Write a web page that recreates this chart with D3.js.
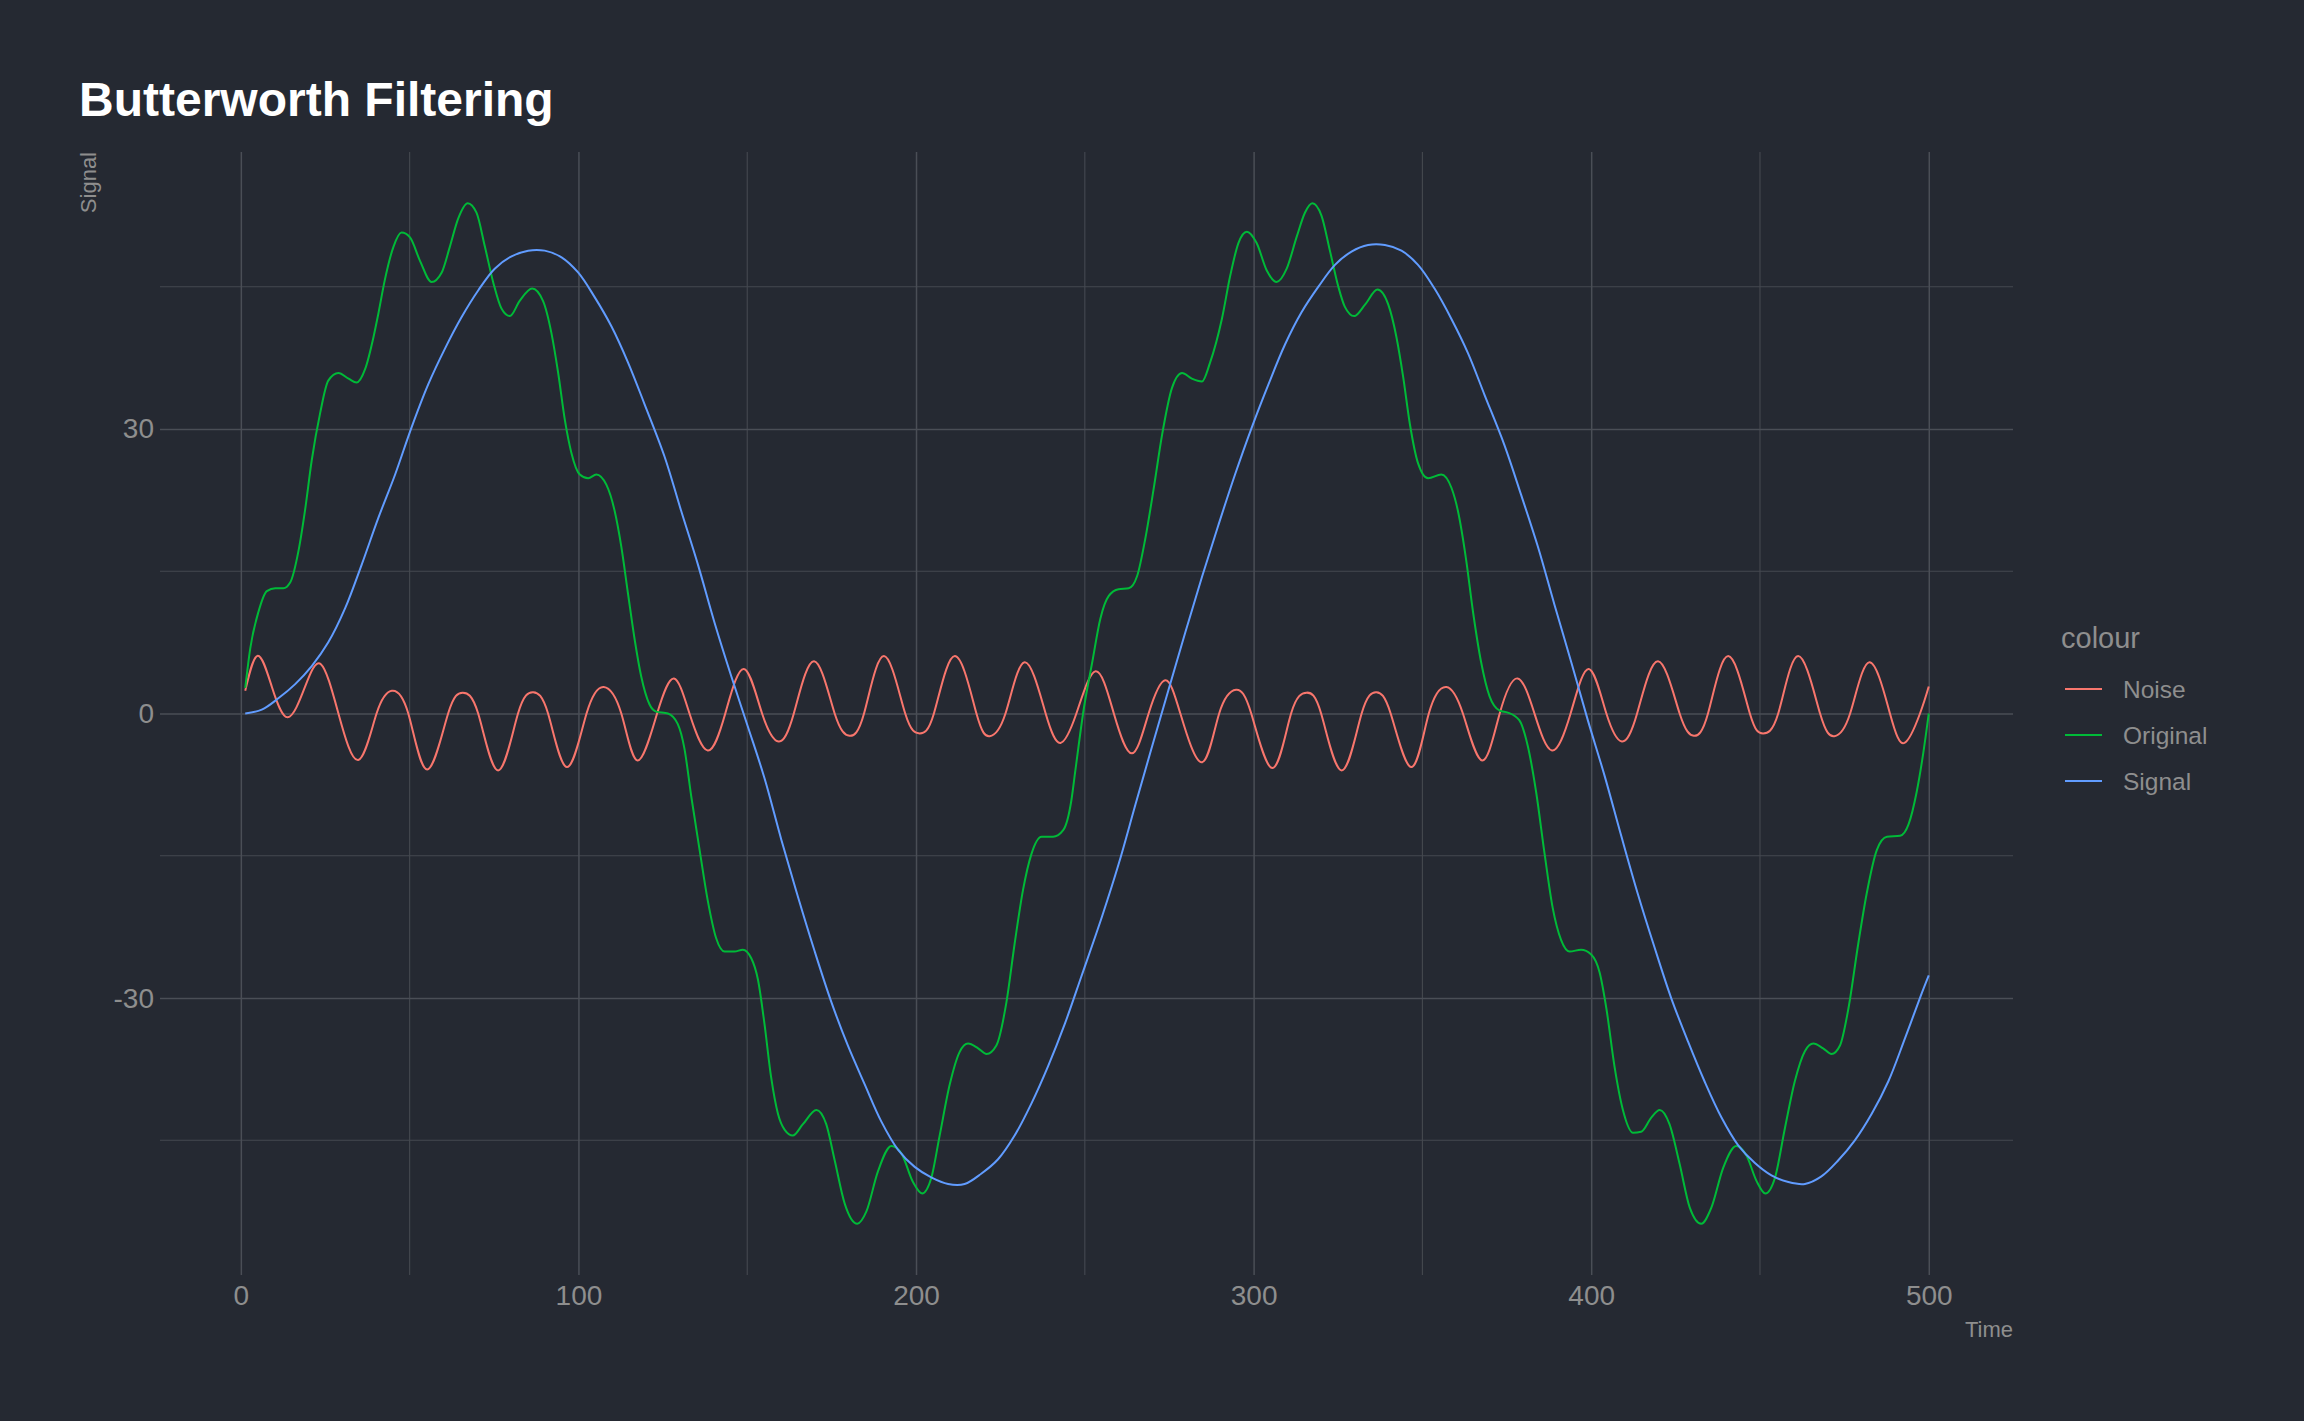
<!DOCTYPE html>
<html>
<head>
<meta charset="utf-8">
<script src="https://cdn.jsdelivr.net/npm/d3@7"></script>
<style>
  html, body { margin: 0; padding: 0; background: #252932; }
  svg { display: block; }
  text { font-family: "Liberation Sans", Arial, sans-serif; }
</style>
</head>
<body>
<svg id="chart" width="2304" height="1421"></svg>
<script>
// values: [time, value]
const noise = [
  [1.3, 2.4], [5, 6.1], [9.2, 2.8], [13.9, -0.4], [19, 2.8], [23.7, 5.2], [28.9, 0], [34.8, -4.9],
  [40.2, 0], [44.7, 2.4], [49.6, 0], [55.2, -5.9], [61.4, 0], [65.7, 2.2], [70.3, 0], [76.2, -6.0],
  [82.1, 0], [86.6, 2.25], [91, 0], [96.6, -5.65], [102.4, 0], [107.5, 2.8], [112.7, 0], [117.5, -4.95],
  [123.3, 0], [128.3, 3.7], [132.9, 0], [138.3, -3.9], [143.5, 0], [149, 4.7], [154.4, 0], [159.3, -2.95],
  [163.8, 0], [169.8, 5.5], [175.9, 0], [180.3, -2.35], [184.6, 0], [190.5, 6.05], [196.8, 0], [201.1, -2.1],
  [205.3, 0], [211.5, 6.05], [217.9, 0], [221.8, -2.4], [226.5, 0], [232.2, 5.4], [238.4, 0], [242.8, -3.1],
  [247.5, 0], [253.2, 4.45], [258.6, 0], [264, -4.2], [268.9, 0], [273.8, 3.5], [278.3, 0], [284.7, -5.15],
  [289.8, 0], [294.8, 2.5], [299.3, 0], [305.6, -5.75], [311.1, 0], [315.7, 2.2], [320, 0], [326.1, -6.0],
  [332, 0], [336.4, 2.25], [340.6, 0], [346.7, -5.65], [351.9, 0], [357.1, 2.8], [362, 0], [367.7, -4.95],
  [372.9, 0], [378.2, 3.7], [383.2, 0], [388.4, -3.9], [393.9, 0], [399.3, 4.7], [404.5, 0], [409.1, -2.95],
  [413.6, 0], [419.8, 5.5], [426.2, 0], [430.4, -2.35], [434.6, 0], [440.6, 6.05], [447, 0], [450.9, -2.1],
  [455.4, 0], [461.3, 6.05], [467.8, 0], [472, -2.4], [476.7, 0], [482.4, 5.4], [488.5, 0], [492.8, -3.1],
  [497.4, 0], [500, 2.85]
];

const original = [
  [1.3, 2.7], [2.8, 6.9], [5.2, 10.7], [7.7, 12.9], [10.2, 13.2], [12.6, 13.2], [14.6, 13.8], [17.1, 17.2],
  [19, 21.4], [21, 26.7], [23.5, 31.7], [25.9, 35.1], [28.9, 35.9], [31.9, 35.3], [34.3, 34.9], [36.8, 36.3],
  [39.3, 39.7], [40.7, 42.1], [42.7, 45.8], [45.2, 49.2], [47.6, 50.7], [50.1, 50.2], [53.1, 47.7], [56.5, 45.5],
  [59.5, 46.5], [61.9, 49.2], [64.4, 52.2], [67.2, 53.8], [69.8, 52.8], [72.3, 49.2], [74.8, 45.4], [77.2, 42.7],
  [79.7, 41.9], [82.6, 43.5], [86.3, 44.8], [89.5, 43.5], [92, 40.1], [94, 35.9], [96, 30.9], [97.9, 27.5],
  [100.4, 25.2], [102.9, 24.8], [105.3, 25.2], [108.3, 24.1], [110.7, 21.4], [112.7, 17.6], [114.7, 12.6], [116.7, 7.7],
  [118.6, 3.9], [121, 1.0], [123, 0.2], [126.5, 0], [129.4, -1.1], [131.4, -3.7], [133.4, -8.7], [135.9, -14.4],
  [138.3, -19.7], [140.8, -23.7], [143.3, -25.1], [146.2, -25.1], [148.7, -24.9], [151.2, -25.8], [153.2, -28.1], [155.1, -32.7],
  [157.1, -38.4], [159.1, -42.2], [161.1, -43.9], [163.5, -44.5], [166.5, -43.3], [170.5, -41.8], [173.4, -43.3], [175.9, -47.1],
  [178.9, -51.7], [182.6, -53.8], [185.3, -52.5], [188.7, -48.3], [192.7, -45.6], [195.7, -46.4], [199.1, -49.4], [201.8, -50.6],
  [204.5, -49.0], [207, -44.5], [210, -39.1], [212.9, -35.7], [215.4, -34.8], [218.4, -35.3], [220.9, -35.9], [223.8, -35.0],
  [226.8, -30.4], [229.2, -24.3], [231.7, -18.6], [234.2, -14.8], [237.2, -13.0], [240.6, -13.0], [243.6, -12.3], [246, -9.2],
  [247.2, -6.0], [249.7, 0.5], [252.2, 5.4], [254.6, 10.0], [257.1, 12.4], [260, 13.1], [263, 13.2], [265.5, 14.5],
  [267.9, 18.4], [270.4, 23.7], [272.9, 29.4], [275.8, 34.3], [278.8, 35.9], [281.7, 35.3], [284.7, 35.0], [287.1, 37.0],
  [290.6, 41.6], [293.1, 46.2], [295.5, 49.6], [298, 50.8], [300.9, 49.6], [303.9, 46.7], [306.8, 45.5], [309.8, 46.9],
  [312.8, 50.3], [315.2, 52.8], [317.4, 53.8], [320.1, 52.5], [322.6, 48.8], [325.1, 45.0], [327, 42.9], [329.8, 41.9],
  [333, 43.1], [336.7, 44.7], [339.9, 43.1], [342.3, 39.7], [344.3, 35.5], [346.3, 30.5], [348.7, 26.4], [351.7, 24.8],
  [355.6, 25.2], [358.6, 23.8], [360.5, 21.4], [363, 16.1], [365, 10.7], [367.4, 5.4], [369.9, 1.8], [372.9, 0.3],
  [375.3, 0.1], [378.7, -0.7], [381.2, -3.4], [383.7, -8.3], [386.2, -14.8], [388.6, -20.5], [391.1, -23.9], [393.6, -25.1],
  [397, -24.9], [400, -25.4], [402.5, -27.3], [404.5, -31.1], [406.9, -37.2], [409.4, -41.8], [412.4, -44.2], [414.8, -44.1],
  [417.8, -42.6], [420.3, -41.8], [423.2, -43.3], [426.2, -47.5], [429.2, -52.1], [432.6, -53.8], [435.6, -52.1], [439.1, -47.9],
  [443, -45.6], [446, -46.6], [449, -49.3], [451.6, -50.6], [454.4, -49.0], [457.4, -43.7], [460.3, -38.8], [463.3, -35.6],
  [465.8, -34.8], [468.7, -35.3], [471.2, -35.9], [473.7, -35.0], [476.2, -31.1], [479.1, -24.3], [481.6, -19.0], [484.6, -14.4],
  [487.6, -13.0], [491.5, -12.9], [494, -11.7], [496.4, -8.3], [498.4, -4.1], [500, 0]
];

const signal = [
  [1.3, 0], [6.2, 0.4], [11.1, 1.6], [16.1, 3.1], [21, 5.0], [25.9, 7.5], [30.9, 11.1], [35.8, 15.7],
  [40.7, 20.6], [45.7, 25.2], [50.6, 30.2], [55.5, 34.7], [60.5, 38.5], [65.4, 41.8], [70.3, 44.6], [75.2, 46.9],
  [80.2, 48.2], [85.1, 48.8], [90, 48.8], [95, 48.1], [99.9, 46.5], [104.8, 43.9], [109.8, 40.8], [114.7, 37.0],
  [119.6, 32.6], [125.5, 27.1], [130.4, 21.4], [135.4, 15.7], [140.3, 9.6], [145.3, 3.9], [150.2, -1.4], [155.1, -6.8],
  [160.1, -13.3], [165, -19.3], [170, -25.1], [174.9, -30.4], [179.8, -35.0], [184.8, -39.1], [189.7, -43.0], [194.7, -46.0],
  [199.6, -47.8], [204.5, -48.9], [209.5, -49.6], [214.4, -49.6], [219.4, -48.5], [224.3, -47.0], [229.2, -44.5], [234.2, -41.1],
  [239.1, -37.2], [244.1, -32.7], [249, -27.7], [255.1, -21.4], [260, -15.9], [265, -9.6], [269.9, -3.5], [274.8, 2.5],
  [279.8, 8.6], [284.7, 14.4], [289.6, 19.9], [294.5, 25.2], [299.5, 30.2], [304.4, 34.7], [309.3, 38.9], [314.2, 42.3],
  [319.2, 45.0], [324.1, 47.3], [329, 48.7], [333.9, 49.4], [338.9, 49.4], [343.8, 48.8], [348.7, 47.3], [353.6, 44.8],
  [358.6, 41.6], [363.5, 38.0], [368.4, 33.6], [374.3, 28.3], [379.2, 23.1], [384.2, 17.6], [389.1, 11.5], [394.1, 5.4],
  [399, -0.7], [404, -6.6], [408.9, -12.9], [413.8, -19.0], [418.8, -24.7], [423.7, -30.0], [428.7, -34.6], [433.6, -38.8],
  [438.6, -42.6], [443.5, -45.5], [448.5, -47.4], [453.4, -48.7], [458.4, -49.4], [463.3, -49.6], [468.2, -48.8], [473.2, -47.1],
  [478.1, -45.0], [483.1, -42.2], [488, -38.8], [493, -34.2], [497.9, -29.5], [500, -27.6]
];

const xMajor = [0, 100, 200, 300, 400, 500];
const xMinor = [50, 150, 250, 350, 450];
const yMajor = [-30, 0, 30];
const yMinor = [-45, -15, 15, 45];
const seriesNames = ['Noise', 'Original', 'Signal'];
const seriesColors = ['#F8766D', '#00BA38', '#619CFF'];

const svg = d3.select('#chart');
const panel = { left: 160, right: 2013, top: 152, bottom: 1275 };

const x = d3.scaleLinear().domain([-23.95, 524.95]).range([panel.left, panel.right]);
const y = d3.scaleLinear().domain([-59.2, 59.2]).range([panel.bottom, panel.top]);
const colour = d3.scaleOrdinal().domain(seriesNames).range(seriesColors);

svg.append('rect')
  .attr('width', 2304).attr('height', 1421)
  .attr('fill', '#252932');

// grid
const grid = svg.append('g').attr('stroke', '#454950');
grid.selectAll('.ymin').data(yMinor).join('line')
  .attr('x1', panel.left).attr('x2', panel.right)
  .attr('y1', d => y(d)).attr('y2', d => y(d)).attr('stroke-width', 1.1);
grid.selectAll('.xmin').data(xMinor).join('line')
  .attr('y1', panel.top).attr('y2', panel.bottom)
  .attr('x1', d => x(d)).attr('x2', d => x(d)).attr('stroke-width', 1.1);

svg.append('g')
  .attr('transform', `translate(0,${panel.bottom})`)
  .call(d3.axisBottom(x).tickValues(xMajor).tickSize(-(panel.bottom - panel.top)).tickPadding(10))
  .call(g => g.select('.domain').remove())
  .call(g => g.selectAll('.tick line').attr('stroke', '#4a4e56').attr('stroke-width', 1.5))
  .call(g => g.selectAll('.tick text').attr('fill', '#8e8e8e').attr('font-size', 28)
    .attr('font-family', '"Liberation Sans", Arial, sans-serif'));

svg.append('g')
  .attr('transform', `translate(${panel.left},0)`)
  .call(d3.axisLeft(y).tickValues(yMajor).tickFormat(d3.format('d')).tickSize(-(panel.right - panel.left)).tickPadding(6))
  .call(g => g.select('.domain').remove())
  .call(g => g.selectAll('.tick line').attr('stroke', '#4a4e56').attr('stroke-width', 1.5))
  .call(g => g.selectAll('.tick text').attr('fill', '#8e8e8e').attr('font-size', 28)
    .attr('font-family', '"Liberation Sans", Arial, sans-serif')
    .text(d => d < 0 ? '-' + Math.abs(d) : d));

// lines
const lineNatural = d3.line().x(d => x(d[0])).y(d => y(d[1])).curve(d3.curveNatural);
const lineMono = d3.line().x(d => x(d[0])).y(d => y(d[1])).curve(d3.curveMonotoneX);
const lineSmooth = d3.line().x(d => x(d[0])).y(d => y(d[1])).curve(d3.curveCatmullRom.alpha(0.5));

svg.append('path').datum(noise)
  .attr('fill', 'none').attr('stroke', colour('Noise')).attr('stroke-width', 2)
  .attr('d', lineNatural);
svg.append('path').datum(original)
  .attr('fill', 'none').attr('stroke', colour('Original')).attr('stroke-width', 2)
  .attr('d', lineMono);
svg.append('path').datum(signal)
  .attr('fill', 'none').attr('stroke', colour('Signal')).attr('stroke-width', 2)
  .attr('d', lineSmooth);

// titles
svg.append('text')
  .attr('x', 79).attr('y', 116)
  .attr('fill', '#ffffff').attr('font-size', 48).attr('font-weight', 'bold')
  .text('Butterworth Filtering');

svg.append('text')
  .attr('transform', `translate(96,${panel.top}) rotate(-90)`)
  .attr('text-anchor', 'end')
  .attr('fill', '#8e8e8e').attr('font-size', 22)
  .text('Signal');

svg.append('text')
  .attr('x', panel.right).attr('y', 1337)
  .attr('text-anchor', 'end')
  .attr('fill', '#8e8e8e').attr('font-size', 22)
  .text('Time');

// legend
const legend = svg.append('g').attr('transform', 'translate(2061,0)');
legend.append('text')
  .attr('x', 0).attr('y', 648)
  .attr('fill', '#8e8e8e').attr('font-size', 29)
  .text('colour');

const items = legend.selectAll('.item').data(seriesNames).join('g')
  .attr('transform', (d, i) => `translate(0,${689 + i * 46})`);
items.append('line')
  .attr('x1', 4).attr('x2', 41).attr('y1', 0).attr('y2', 0)
  .attr('stroke', d => colour(d)).attr('stroke-width', 2);
items.append('text')
  .attr('x', 62).attr('y', 8.5)
  .attr('fill', '#8e8e8e').attr('font-size', 24.5)
  .text(d => d);
</script>
</body>
</html>
